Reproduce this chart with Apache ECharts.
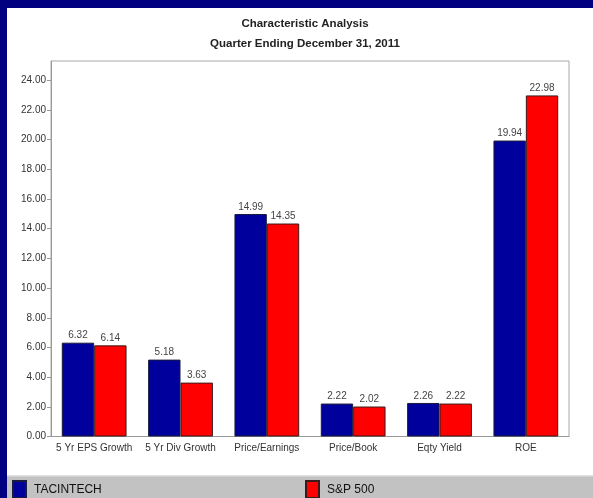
<!DOCTYPE html>
<html>
<head>
<meta charset="utf-8">
<script src="https://cdn.jsdelivr.net/npm/echarts@6/dist/echarts.min.js"></script>
<style>
  html, body { margin: 0; padding: 0; background: #000080; }
  #chart { width: 593px; height: 498px; }
</style>
</head>
<body>
<div id="chart"></div>
<script>
// Characteristic analysis: fund vs. index, quarter ending Dec 31, 2011
const categories = ['5 Yr EPS Growth', '5 Yr Div Growth', 'Price/Earnings', 'Price/Book', 'Eqty Yield', 'ROE'];
const fundName = 'TACINTECH';
const indexName = 'S&P 500';
const fundValues = [6.32, 5.18, 14.99, 2.22, 2.26, 19.94];
const indexValues = [6.14, 3.63, 14.35, 2.02, 2.22, 22.98];
const yTicks = [0, 2, 4, 6, 8, 10, 12, 14, 16, 18, 20, 22, 24];

const FONT = "'Liberation Sans', Arial, sans-serif";
const W = 593, H = 498;

const chart = echarts.init(document.getElementById('chart'), null, { renderer: 'canvas' });

const barLabel = {
  show: true,
  position: 'top',
  distance: 2,
  color: '#444',
  fontFamily: FONT,
  fontSize: 10,
  formatter: p => p.value.toFixed(2)
};

const legendText = { fontFamily: FONT, fontSize: 12, color: '#111', padding: [0, 0, 0, 3] };

chart.setOption({
  backgroundColor: '#000080',
  animation: false,
  graphic: [
    // white panel
    { type: 'rect', z: -10, shape: { x: 7, y: 8, width: W - 7, height: 468 }, style: { fill: '#ffffff' } },
    // legend band
    { type: 'rect', z: -10, shape: { x: 7, y: 476, width: W - 7, height: H - 476 }, style: { fill: '#c2c2c2' } },
    { type: 'rect', z: -9, shape: { x: 7, y: 475, width: W - 7, height: 1.5 }, style: { fill: '#e0e0e0' } }
  ],
  title: {
    text: 'Characteristic Analysis\nQuarter Ending December 31, 2011',
    left: 300,
    textAlign: 'center',
    top: 9,
    textStyle: {
      fontFamily: FONT,
      fontSize: 11.5,
      fontWeight: 'bold',
      color: '#222',
      lineHeight: 20
    }
  },
  legend: [
    {
      data: [fundName],
      left: 12, top: 480, padding: 0,
      itemWidth: 13, itemHeight: 17, itemGap: 0,
      icon: 'rect',
      textStyle: legendText
    },
    {
      data: [indexName],
      left: 305, top: 480, padding: 0,
      itemWidth: 13, itemHeight: 17, itemGap: 0,
      icon: 'rect',
      textStyle: legendText
    }
  ],
  grid: {
    left: 51, right: 24, top: 61, bottom: 61.5,
    show: true,
    borderColor: '#a8a8a8',
    borderWidth: 1,
    backgroundColor: '#ffffff'
  },
  xAxis: {
    type: 'category',
    data: categories,
    axisLine: { lineStyle: { color: '#999' } },
    axisTick: { show: false },
    axisLabel: { interval: 0, color: '#333', fontFamily: FONT, fontSize: 10, margin: 7 }
  },
  yAxis: {
    type: 'value',
    min: 0,
    max: 25.3,
    interval: 2,
    splitLine: { show: false },
    axisLine: { show: true, lineStyle: { color: '#999' } },
    axisTick: { show: true, length: 4, lineStyle: { color: '#999' }, customValues: yTicks },
    axisLabel: {
      color: '#333', fontFamily: FONT, fontSize: 10, margin: 5,
      customValues: yTicks,
      formatter: v => v.toFixed(2)
    }
  },
  series: [
    {
      name: fundName,
      type: 'bar',
      data: fundValues,
      barGap: '0%',
      barCategoryGap: '25%',
      itemStyle: { color: '#00009c', borderColor: '#1a1a3a', borderWidth: 1 },
      label: barLabel
    },
    {
      name: indexName,
      type: 'bar',
      data: indexValues,
      itemStyle: { color: '#ff0000', borderColor: '#3a1a1a', borderWidth: 1 },
      label: barLabel
    }
  ]
});
</script>
</body>
</html>
